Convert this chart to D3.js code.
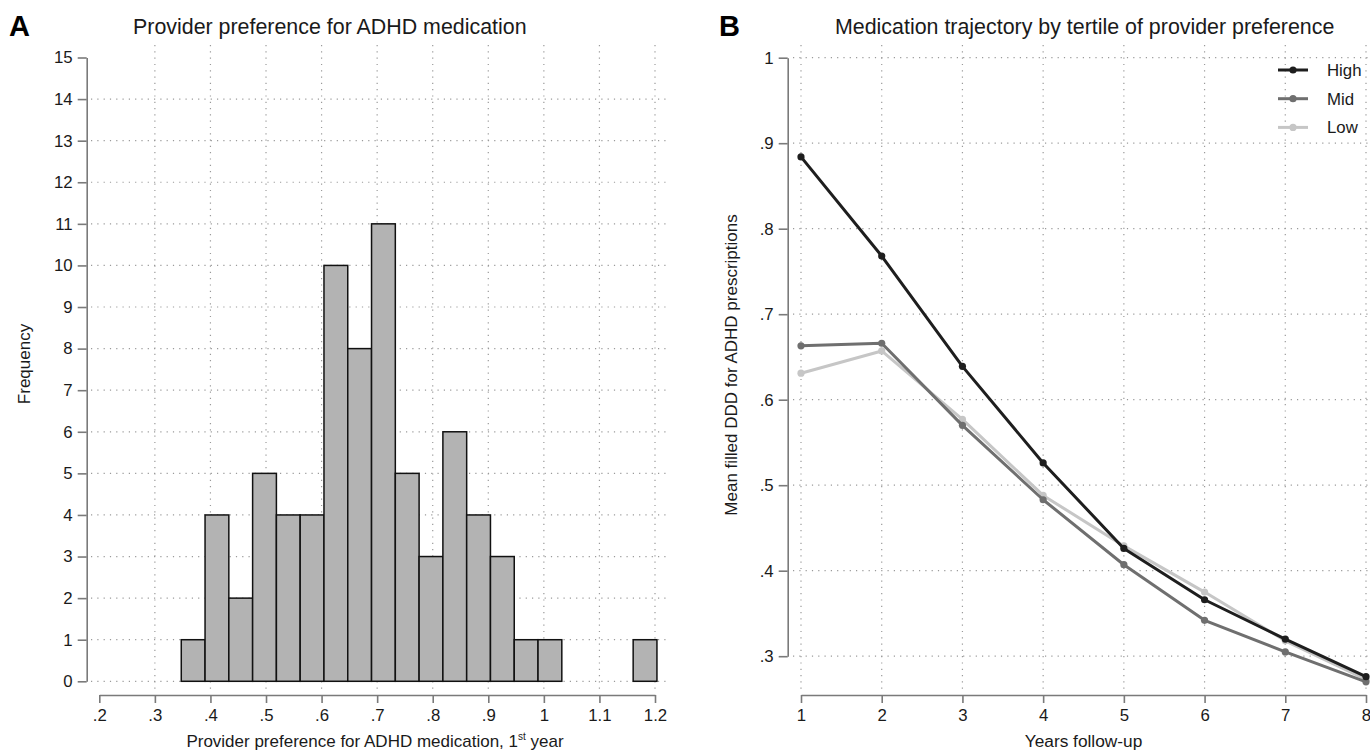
<!DOCTYPE html>
<html>
<head>
<meta charset="utf-8">
<script src="https://cdn.jsdelivr.net/npm/d3@7"></script>
<style>
  html, body { margin: 0; padding: 0; background: #fff; }
  svg { display: block; font-family: "Liberation Sans", Arial, Helvetica, sans-serif; }
</style>
</head>
<body>
<svg id="chart" width="1370" height="751"></svg>
<script>
// ---------------- DATA ----------------
// Panel A: histogram of provider preference (20 equal-width bins)
const binStart = 0.3475;
const binWidth = 0.0428;
const binCounts = [1, 4, 2, 5, 4, 4, 10, 8, 11, 5, 3, 6, 4, 3, 1, 1, 0, 0, 0, 1];
const xTicksA = [0.2, 0.3, 0.4, 0.5, 0.6, 0.7, 0.8, 0.9, 1.0, 1.1, 1.2];
const xTickLabelsA = [".2", ".3", ".4", ".5", ".6", ".7", ".8", ".9", "1", "1.1", "1.2"];
const yTicksA = [0, 1, 2, 3, 4, 5, 6, 7, 8, 9, 10, 11, 12, 13, 14, 15];

// Panel B: medication trajectory by tertile
const years = [1, 2, 3, 4, 5, 6, 7, 8];
const highValues = [0.884, 0.768, 0.639, 0.526, 0.426, 0.366, 0.320, 0.276];
const midValues  = [0.663, 0.666, 0.570, 0.483, 0.407, 0.342, 0.305, 0.270];
const lowValues  = [0.631, 0.657, 0.577, 0.488, 0.429, 0.375, 0.318, 0.273];
const seriesNames = ["High", "Mid", "Low"];
const yTicksB = [0.3, 0.4, 0.5, 0.6, 0.7, 0.8, 0.9, 1.0];
const yTickLabelsB = [".3", ".4", ".5", ".6", ".7", ".8", ".9", "1"];

// ---------------- STYLE ----------------
const axisColor = "#7a7a7a";
const gridColor = "#9a9a9a";
const textColor = "#1a1a1a";
const seriesColors = { High: "#1e1e1e", Mid: "#6f6f6f", Low: "#c6c6c6" };

const svg = d3.select("#chart");

function styleAxis(g) {
  g.select(".domain").attr("stroke", axisColor).attr("stroke-width", 1.6);
  g.selectAll(".tick line").attr("stroke", axisColor).attr("stroke-width", 1.6);
  g.selectAll(".tick text").attr("fill", textColor).style("font-size", "16.8px")
    .style("font-family", '"Liberation Sans", Arial, sans-serif');
}

function grid(g, orient, vals, scale, from, to) {
  g.selectAll(null).data(vals).enter().append("line")
    .attr("x1", d => orient === "h" ? from : scale(d))
    .attr("x2", d => orient === "h" ? to : scale(d))
    .attr("y1", d => orient === "h" ? scale(d) : from)
    .attr("y2", d => orient === "h" ? scale(d) : to)
    .attr("stroke", gridColor)
    .attr("stroke-width", 1.2)
    .attr("stroke-dasharray", "1.2 5.1");
}

// ================= PANEL A =================
const xA = d3.scaleLinear().domain([0.2, 1.2]).range([99.3, 655]);
const yA = d3.scaleLinear().domain([0, 15]).range([681.3, 57.5]);
const gA = svg.append("g");

// gridlines
grid(gA, "h", yTicksA.filter(d => d < 15), yA, 91, 670);
grid(gA, "v", xTicksA.filter(d => d > 0.25), xA, 45, 690);

// bars
gA.append("g").selectAll("rect").data(binCounts.map((c, i) => ({ c, i })).filter(d => d.c > 0))
  .enter().append("rect")
  .attr("x", d => xA(binStart + d.i * binWidth))
  .attr("width", d => xA(binStart + (d.i + 1) * binWidth) - xA(binStart + d.i * binWidth))
  .attr("y", d => yA(d.c))
  .attr("height", d => yA(0) - yA(d.c))
  .attr("fill", "#b3b3b3")
  .attr("stroke", "#111")
  .attr("stroke-width", 1.5);

// axes
const yAxisA = gA.append("g").attr("transform", "translate(86.7,0)")
  .call(d3.axisLeft(yA).tickValues(yTicksA).tickFormat(d3.format("d")).tickSize(9).tickSizeOuter(0).tickPadding(5));
styleAxis(yAxisA);
const xAxisA = gA.append("g").attr("transform", "translate(0,695)")
  .call(d3.axisBottom(xA).tickValues(xTicksA).tickFormat((d, i) => xTickLabelsA[i]).tickSize(8).tickSizeOuter(0).tickPadding(6));
styleAxis(xAxisA);

// titles
gA.append("text").attr("x", 133).attr("y", 34).attr("text-anchor", "start")
  .attr("fill", textColor).style("font-size", "21.4px")
  .text("Provider preference for ADHD medication");
const xlabA = gA.append("text").attr("x", 375).attr("y", 747).attr("text-anchor", "middle")
  .attr("fill", textColor).style("font-size", "17px");
xlabA.append("tspan").text("Provider preference for ADHD medication, 1");
xlabA.append("tspan").attr("dy", -7).style("font-size", "10px").text("st");
xlabA.append("tspan").attr("dy", 7).text(" year");
gA.append("text").attr("transform", "translate(30,364) rotate(-90)").attr("text-anchor", "middle")
  .attr("fill", textColor).style("font-size", "17px").text("Frequency");
gA.append("text").attr("x", 9).attr("y", 36).attr("fill", "#000")
  .style("font-size", "29px").style("font-weight", "bold").text("A");

// ================= PANEL B =================
const xB = d3.scaleLinear().domain([1, 8]).range([801, 1366]);
const yB = d3.scaleLinear().domain([0.3, 1.0]).range([656.2, 57.7]);
const gB = svg.append("g");

grid(gB, "h", yTicksB, yB, 793, 1370);
grid(gB, "v", years, xB, 45, 690);

const yAxisB = gB.append("g").attr("transform", "translate(787.7,0)")
  .call(d3.axisLeft(yB).tickValues(yTicksB).tickFormat((d, i) => yTickLabelsB[i]).tickSize(9).tickSizeOuter(0).tickPadding(5));
styleAxis(yAxisB);
const xAxisB = gB.append("g").attr("transform", "translate(0,695)")
  .call(d3.axisBottom(xB).tickValues(years).tickFormat(d3.format("d")).tickSize(8).tickSizeOuter(0).tickPadding(6));
styleAxis(xAxisB);

const seriesData = { High: highValues, Mid: midValues, Low: lowValues };
const line = d3.line().x((d, i) => xB(years[i])).y(d => yB(d));
["Low", "Mid", "High"].forEach(name => {
  const vals = seriesData[name];
  gB.append("path").datum(vals).attr("d", line).attr("fill", "none")
    .attr("stroke", seriesColors[name]).attr("stroke-width", 3).attr("stroke-linejoin", "round");
  gB.append("g").selectAll("circle").data(vals).enter().append("circle")
    .attr("cx", (d, i) => xB(years[i])).attr("cy", d => yB(d)).attr("r", 3.6)
    .attr("fill", seriesColors[name]);
});

// legend
const legend = gB.append("g");
seriesNames.forEach((name, i) => {
  const y = 70 + i * 28.7;
  legend.append("line").attr("x1", 1278).attr("x2", 1308).attr("y1", y).attr("y2", y)
    .attr("stroke", seriesColors[name]).attr("stroke-width", 3);
  legend.append("circle").attr("cx", 1293).attr("cy", y).attr("r", 3.6).attr("fill", seriesColors[name]);
  legend.append("text").attr("x", 1327).attr("y", y + 6).attr("fill", textColor)
    .style("font-size", "16.8px").text(name);
});

gB.append("text").attr("x", 835).attr("y", 34).attr("text-anchor", "start")
  .attr("fill", textColor).style("font-size", "21.4px")
  .text("Medication trajectory by tertile of provider preference");
gB.append("text").attr("x", 1083.5).attr("y", 747).attr("text-anchor", "middle")
  .attr("fill", textColor).style("font-size", "17.3px").text("Years follow-up");
gB.append("text").attr("transform", "translate(737,365) rotate(-90)").attr("text-anchor", "middle")
  .attr("fill", textColor).style("font-size", "17px").text("Mean filled DDD for ADHD prescriptions");
gB.append("text").attr("x", 719).attr("y", 36).attr("fill", "#000")
  .style("font-size", "29px").style("font-weight", "bold").text("B");
</script>
</body>
</html>
